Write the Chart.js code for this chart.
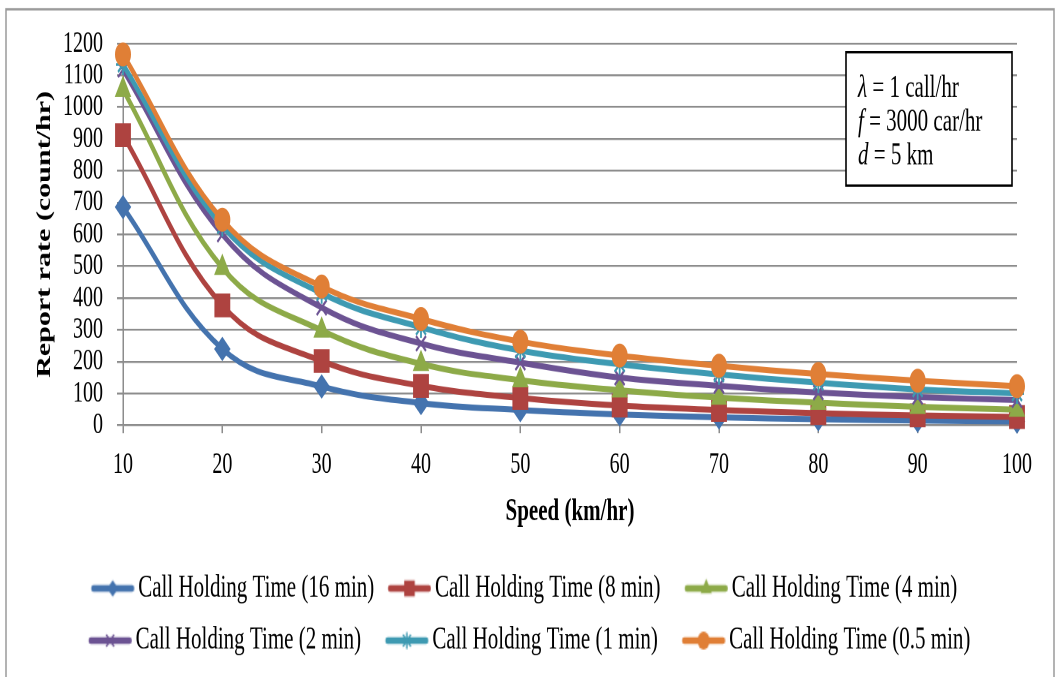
<!DOCTYPE html>
<html>
<head>
<meta charset="utf-8">
<script src="https://cdn.jsdelivr.net/npm/chart.js@4.4.1/dist/chart.umd.min.js"></script>
<style>
html,body{margin:0;padding:0;background:#fff;overflow:hidden;width:1060px;height:677px}
#wrap{position:absolute;left:0;top:0;width:1060px;height:451px;transform-origin:0 0;transform:scaleY(1.5011)}
canvas{display:block}
</style>
</head>
<body>
<div id="wrap"><canvas id="c" width="1060" height="451"></canvas></div>
<script>
// ---- data ----
const speeds = [10, 20, 30, 40, 50, 60, 70, 80, 90, 100];
const yTicks = [0, 100, 200, 300, 400, 500, 600, 700, 800, 900, 1000, 1100, 1200];
const ht16min = [686, 240, 122, 70, 48, 34, 25, 19, 15, 12];
const ht8min  = [912, 377, 202, 124, 86, 62, 48, 38, 31, 26];
const ht4min  = [1055, 495, 298, 193, 142, 110, 87, 71, 58, 49];
const ht2min  = [1118, 600, 370, 257, 197, 150, 124, 103, 89, 79];
const ht1min  = [1134, 626, 415, 308, 235, 192, 160, 134, 113, 100];
const ht05min = [1166, 646, 436, 334, 263, 219, 187, 161, 140, 123];
const seriesLabels = [
  'Call Holding Time (16 min)', 'Call Holding Time (8 min)', 'Call Holding Time (4 min)',
  'Call Holding Time (2 min)', 'Call Holding Time (1 min)', 'Call Holding Time (0.5 min)'
];
const seriesValues = [ht16min, ht8min, ht4min, ht2min, ht1min, ht05min];
const annotationLines = [['\u03bb', ' = 1 call/hr'], ['f', ' = 3000 car/hr'], ['d', ' = 5 km']];

// ---- styles ----
const SERIF = "'Liberation Serif', 'Times New Roman', serif";
const colors = ['#4473AE', '#AE4340', '#8DAA48', '#6C5393', '#3E9AB2', '#E07F36'];
const markers = ['rectRot', 'rect', 'triangle', 'crossRot', 'star', 'circle'];
const radii = [7.5, 10.5, 8.5, 7, 7, 7.5];
const markerBorder = [1, 1, 1, 1.8, 1.8, 1];
const legendRadii = [5.5, 7.5, 6.5, 5, 5, 6];
const legendPad = ['', '  ', '  ', '  ', '  ', ''];
const GRID = '#8c8c8c';

function drawMarker(g, style, x, y, r, color) {
  g.fillStyle = color; g.strokeStyle = color;
  g.beginPath();
  if (style === 'rectRot') {
    g.moveTo(x, y - r); g.lineTo(x + r, y); g.lineTo(x, y + r); g.lineTo(x - r, y); g.closePath(); g.fill();
  } else if (style === 'rect') {
    const s = r * Math.SQRT1_2; g.rect(x - s, y - s, 2 * s, 2 * s); g.fill();
  } else if (style === 'triangle') {
    g.moveTo(x, y - r); g.lineTo(x + r * 0.866, y + r / 2); g.lineTo(x - r * 0.866, y + r / 2); g.closePath(); g.fill();
  } else if (style === 'crossRot' || style === 'star') {
    const s = r * Math.SQRT1_2; g.lineWidth = 1.5;
    g.moveTo(x - s, y - s); g.lineTo(x + s, y + s); g.moveTo(x + s, y - s); g.lineTo(x - s, y + s);
    if (style === 'star') { g.moveTo(x, y - r); g.lineTo(x, y + r); }
    g.stroke();
  } else {
    g.arc(x, y, r, 0, Math.PI * 2); g.fill();
  }
}
function makeIcon(i) {
  const c = document.createElement('canvas'); c.width = 50; c.height = 20;
  const g = c.getContext('2d');
  g.strokeStyle = colors[i]; g.lineWidth = 4.4; g.lineCap = 'round';
  g.beginPath(); g.moveTo(8.9, 10); g.lineTo(47.6, 10); g.stroke();
  drawMarker(g, markers[i], 28.25, 10, legendRadii[i], colors[i]);
  return c;
}
const icons = colors.map((_, i) => makeIcon(i));

const framePlugin = {
  id: 'frame',
  beforeDraw(chart) {
    const g = chart.ctx; g.save();
    g.fillStyle = '#fff'; g.fillRect(0, 0, chart.width, chart.height);
    g.strokeStyle = '#9a9a9a'; g.lineWidth = 1.5;
    g.strokeRect(6, 6.2, 1048, 600);
    g.restore();
  }
};
const boxPlugin = {
  id: 'paramBox',
  afterDatasetsDraw(chart) {
    const ca = chart.chartArea, g = chart.ctx; g.save();
    const left = ca.right - 171, top = ca.top + 5.8, w = 166, h = 88.8;
    g.fillStyle = '#fff'; g.fillRect(left, top, w, h);
    g.strokeStyle = '#000'; g.lineWidth = 1.6; g.strokeRect(left, top, w, h);
    g.fillStyle = '#000'; g.textBaseline = 'alphabetic';
    annotationLines.forEach((ln, k) => {
      const y = top + 29.9 + k * 22.4;
      let x = left + 12;
      g.font = 'italic 21px ' + SERIF; g.fillText(ln[0], x, y); x += g.measureText(ln[0]).width;
      g.font = '21px ' + SERIF; g.fillText(ln[1], x, y);
    });
    g.restore();
  }
};

new Chart(document.getElementById('c'), {
  type: 'line',
  data: {
    labels: speeds,
    datasets: seriesValues.map((d, i) => ({
      label: seriesLabels[i], data: d,
      borderColor: colors[i], backgroundColor: colors[i], borderWidth: 4,
      tension: 0.4, fill: false, clip: false, order: 5 - i,
      pointStyle: markers[i], pointRadius: radii[i], pointHoverRadius: radii[i],
      pointBackgroundColor: colors[i], pointBorderColor: colors[i], pointBorderWidth: markerBorder[i]
    }))
  },
  options: {
    responsive: false, animation: false, devicePixelRatio: 2,
    layout: { padding: { left: 14, right: 15, top: 29, bottom: 3.8 } },
    plugins: {
      tooltip: { enabled: false },
      legend: {
        position: 'bottom',
        labels: {
          usePointStyle: true, pointStyleWidth: 36.5, padding: 13.7,
          font: { family: SERIF, size: 21 }, color: '#000',
          generateLabels: (chart) => chart.data.datasets.map((ds, i) => ({
            text: ds.label + legendPad[i], pointStyle: icons[i],
            fillStyle: colors[i], strokeStyle: colors[i], lineWidth: 0,
            hidden: false, datasetIndex: i, fontColor: '#000'
          }))
        }
      }
    },
    scales: {
      x: {
        type: 'category', offset: false,
        grid: { drawOnChartArea: false, drawTicks: true, tickLength: 5.3, color: GRID, lineWidth: 1.5 },
        border: { display: true, color: GRID, width: 1.3 },
        ticks: { font: { family: SERIF, size: 20 }, color: '#000', padding: 9, maxRotation: 0, autoSkip: false },
        title: { display: true, text: 'Speed (km/hr)', color: '#000',
          font: { family: SERIF, size: 21, weight: 'bold' }, padding: { top: 4, bottom: 14.2 } },
        afterFit(s) { s.height = 84.5; s.paddingRight = 43; s.paddingLeft = 0; }
      },
      y: {
        min: 0, max: 1200,
        afterBuildTicks(s) { s.ticks = yTicks.map(v => ({ value: v })); },
        ticks: { font: { family: SERIF, size: 20 }, color: '#000', padding: 14, autoSkip: false,
          callback: (v) => String(v) },
        grid: { color: GRID, lineWidth: 1.3, tickLength: 6 },
        border: { display: true, color: GRID, width: 1.5 },
        title: { display: true, text: 'Report rate (count/hr)', color: '#000',
          font: { family: SERIF, size: 20, weight: 'bold' }, padding: { top: 19, bottom: 0 } },
        afterFit(s) { s.width = 109; s.paddingTop = 0; s.paddingBottom = 0; }
      }
    }
  },
  plugins: [framePlugin, boxPlugin]
});
</script>
</body>
</html>
